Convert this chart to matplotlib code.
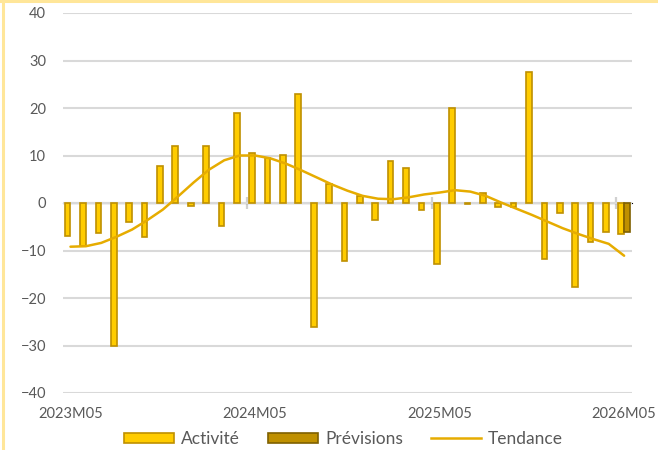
import numpy as np
import matplotlib.pyplot as plt
from matplotlib.patches import Patch
from matplotlib.lines import Line2D

plt.rcParams['font.family'] = ['Lato', 'DejaVu Sans']

# monthly series, 2023M05 .. 2026M05
months = ['2023M05', '2023M06', '2023M07', '2023M08', '2023M09', '2023M10', '2023M11',
          '2023M12', '2024M01', '2024M02', '2024M03', '2024M04', '2024M05', '2024M06',
          '2024M07', '2024M08', '2024M09', '2024M10', '2024M11', '2024M12', '2025M01',
          '2025M02', '2025M03', '2025M04', '2025M05', '2025M06', '2025M07', '2025M08',
          '2025M09', '2025M10', '2025M11', '2025M12', '2026M01', '2026M02', '2026M03',
          '2026M04', '2026M05']
activite = [-6.9, -9.1, -6.3, -30.0, -3.9, -7.1, 7.7, 12.1, -0.7, 11.9, -4.8, 18.9, 10.6,
            9.4, 10.1, 23.0, -26.2, 4.0, -12.2, 1.5, -3.5, 8.9, 7.3, -1.5, -12.9, 20.1,
            -0.2, 2.1, -0.8, -0.9, 27.5, -11.8, -2.1, -17.6, -8.3, -6.1, -6.6]
previsions = [None] * 36 + [-6.2]
tendance = [-9.2, -9.1, -8.4, -7.1, -5.6, -3.6, -1.4, 1.4, 4.3, 7.0, 9.0, 10.0, 10.0,
            9.4, 8.3, 6.9, 5.4, 3.9, 2.6, 1.5, 0.9, 0.8, 1.2, 1.8, 2.2, 2.7, 2.4, 1.5,
            0.1, -1.2, -2.5, -3.9, -5.3, -6.5, -7.6, -8.6, -11.1]
label_months = ['2023M05', '2024M05', '2025M05', '2026M05']

txt = '#595959'
grid = '#d9d9d9'
gold = '#ffcc00'
gold_edge = '#bf9000'
dark = '#bf9000'
dark_edge = '#7f6000'
trend_col = '#e6ac00'

x = np.arange(len(months))
w = 0.37

fig = plt.figure(figsize=(6.58, 4.5), dpi=100)
ax = fig.add_axes([62.8 / 658, 1 - 393 / 450, 569 / 658, 380 / 450])

ax.set_ylim(-40, 40)
ax.set_yticks(range(-40, 41, 10))
ax.yaxis.grid(True, color=grid, linewidth=1.5)
ax.set_axisbelow(True)
ax.set_xlim(-0.5, len(months) - 0.5)

ax.axhline(0, color=grid, linewidth=1.5, zorder=1)

ax.bar(x - w / 2, activite, width=w, color=gold, edgecolor=gold_edge, linewidth=1.2, zorder=2)
prev = np.array([np.nan if v is None else v for v in previsions], dtype=float)
ax.bar(x + w / 2, prev, width=w, color=dark, edgecolor=dark_edge, linewidth=1.2, zorder=2)
ax.plot(x, tendance, color=trend_col, linewidth=1.8, zorder=3, solid_capstyle='round')

# category labels every 12 months, no tick marks at the bottom
ax.set_xticks([months.index(m) for m in label_months])
ax.set_xticklabels(label_months)
ax.tick_params(axis='x', length=0, pad=10, colors=txt, labelsize=10.5)
ax.tick_params(axis='y', length=0, pad=12, colors=txt, labelsize=10.5)
for s in ax.spines.values():
    s.set_visible(False)

# small ticks on the zero line between year blocks
zero_ax = ax.secondary_xaxis(0.5)
zero_ax.set_xticks([11.5, 23.5, 35.5])
zero_ax.set_xticklabels(['', '', ''])
zero_ax.tick_params(axis='x', direction='inout', length=9, width=1.6, color='#d0d0d0')
zero_ax.spines['bottom'].set_visible(False)

handles = [Patch(facecolor=gold, edgecolor=gold_edge, linewidth=1.2, label='Activité'),
           Patch(facecolor=dark, edgecolor=dark_edge, linewidth=1.2, label='Prévisions'),
           Line2D([], [], color=trend_col, linewidth=1.8, label='Tendance')]
leg = fig.legend(handles=handles, loc='lower center', bbox_to_anchor=(0.522, -0.028), ncol=3,
                 frameon=False, fontsize=12.5, handlelength=2.9, handleheight=0.5,
                 columnspacing=1.6, handletextpad=0.4)
for t in leg.get_texts():
    t.set_color(txt)

# thin frame along the left and top edges
fig.add_artist(Line2D([3 / 658, 3 / 658], [0, 1], transform=fig.transFigure,
                      color='#ffe699', linewidth=2.2))
fig.add_artist(Line2D([0, 1], [1 - 1 / 450, 1 - 1 / 450], transform=fig.transFigure,
                      color='#ffe699', linewidth=2.2))

fig.savefig('out.png', dpi=100)
